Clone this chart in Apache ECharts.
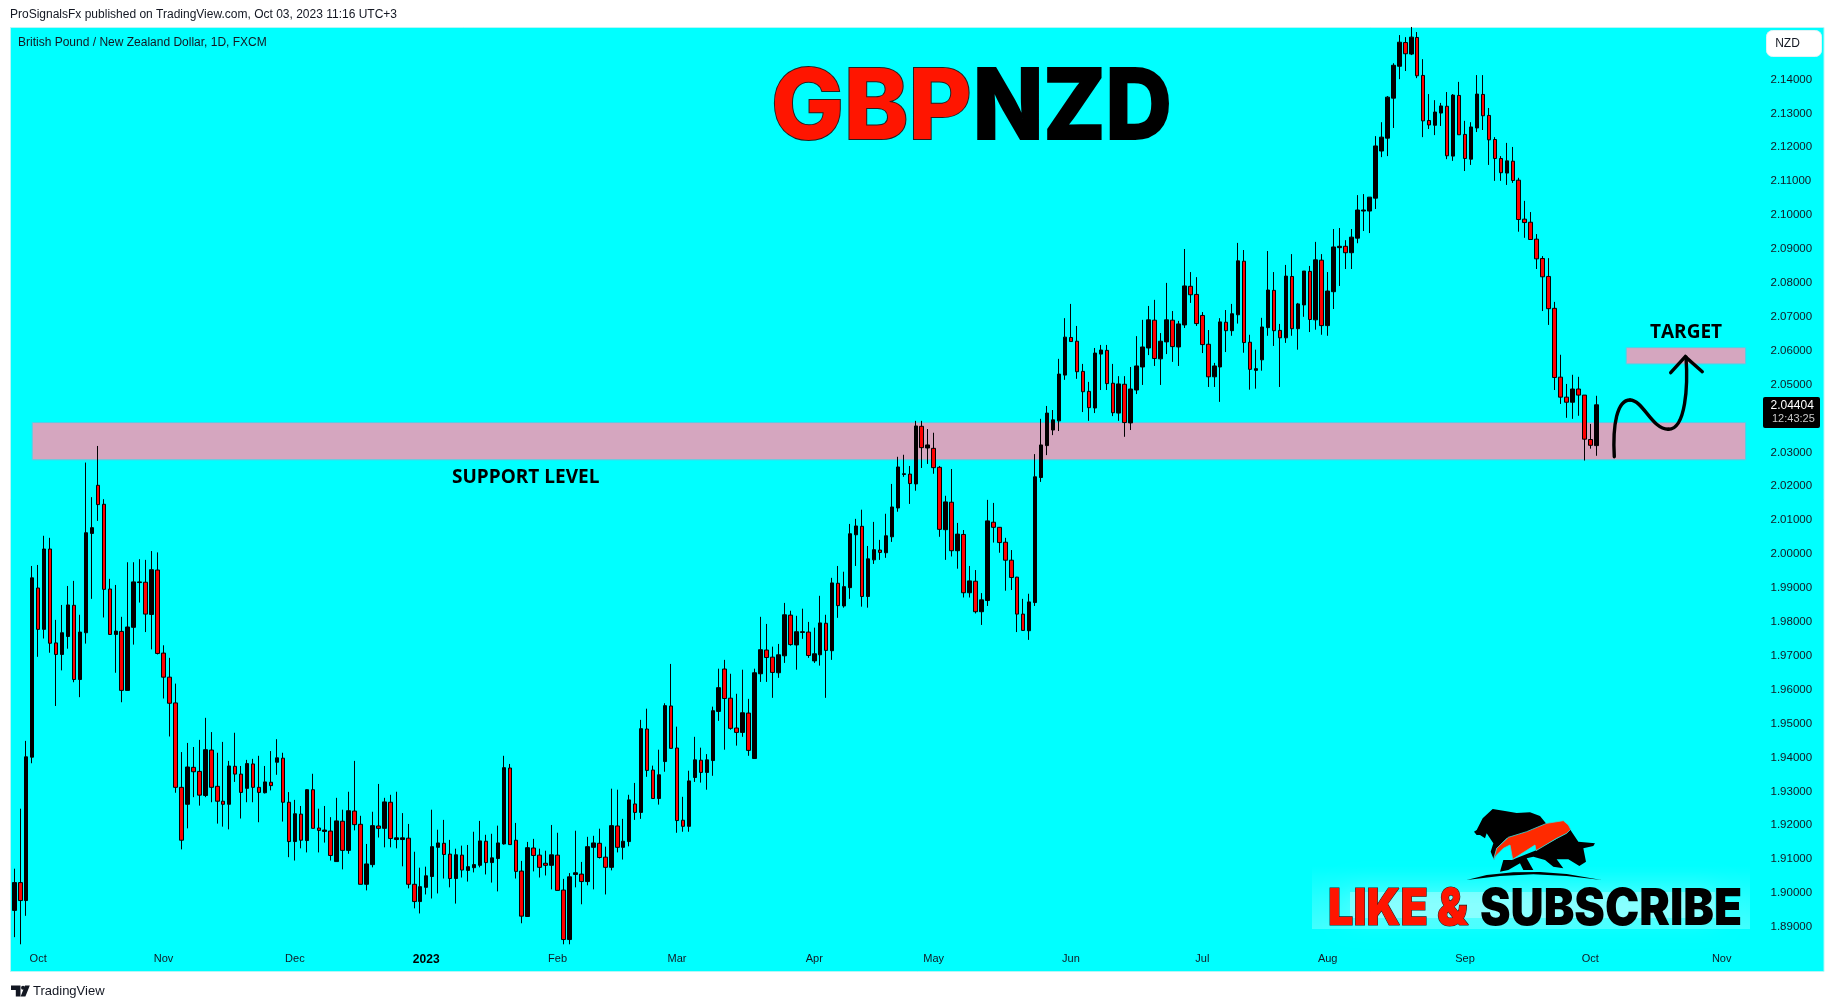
<!DOCTYPE html>
<html><head><meta charset="utf-8"><style>html,body{margin:0;padding:0;background:#fff}#c{width:1835px;height:1008px}</style>
<script src="https://cdn.jsdelivr.net/npm/echarts@6/dist/echarts.min.js"></script></head><body><div id="c"></div>
<script>
const opens=[1.8949,1.9031,1.8978,1.9401,1.9900,1.9778,2.0015,1.9738,1.9704,1.9757,
1.9849,1.9630,1.9768,2.0061,2.0203,2.0147,1.9897,1.9763,1.9772,1.9598,
1.9784,1.9916,1.9917,1.9822,1.9953,1.9708,1.9637,1.9561,1.9312,1.9262,
1.9371,1.9359,1.9288,1.9422,1.9315,1.9271,1.9262,1.9374,1.9351,1.9309,
1.9381,1.9312,1.9296,1.9327,1.9386,1.9398,1.9268,1.9152,1.9233,1.9155,
1.9305,1.9192,1.9182,1.9183,1.9093,1.9212,1.9126,1.9242,1.9203,1.9026,
1.9084,1.9198,1.9191,1.9268,1.9158,1.9158,1.9162,1.9026,1.8975,1.9017,
1.9049,1.9135,1.9147,1.9115,1.9043,1.9112,1.9067,1.9075,1.9082,1.9153,
1.9090,1.9102,1.9145,1.9369,1.9156,1.9065,1.8931,1.9133,1.9112,1.9088,
1.9082,1.9112,1.9009,1.8863,1.9055,1.9056,1.9034,1.9135,1.9147,1.9106,
1.9076,1.9198,1.9135,1.9152,1.9263,1.9238,1.9484,1.9363,1.9279,1.9388,
1.9552,1.9428,1.9215,1.9197,1.9341,1.9392,1.9356,1.9391,1.9536,1.9661,
1.9575,1.9487,1.9474,1.9531,1.9397,1.9647,1.9717,1.9696,1.9650,1.9700,
1.9820,1.9732,1.9769,1.9770,1.9685,1.9703,1.9796,1.9715,1.9914,1.9847,
1.9901,2.0057,2.0082,1.9875,1.9983,2.0012,2.0004,2.0051,2.0136,2.0235,
2.0236,2.0207,2.0377,2.0313,2.0312,2.0256,2.0072,2.0153,2.0010,2.0058,
1.9886,1.9920,1.9830,1.9863,2.0094,2.0079,2.0035,1.9982,1.9932,1.9823,
1.9774,1.9857,2.0226,2.0320,2.0366,2.0393,2.0528,2.0639,2.0628,2.0539,
2.0480,2.0431,2.0590,2.0601,2.0504,2.0416,2.0501,2.0387,2.0484,2.0552,
2.0608,2.0690,2.0576,2.0626,2.0690,2.0611,2.0676,2.0790,2.0766,2.0704,
2.0619,2.0523,2.0552,2.0684,2.0659,2.0706,2.0864,2.0625,2.0542,2.0573,
2.0668,2.0778,2.0660,2.0638,2.0819,2.0665,2.0735,2.0834,2.0691,2.0867,
2.0674,2.0774,2.0904,2.0908,2.0889,2.0932,2.1012,2.1012,2.1050,2.1189,
2.1227,2.1345,2.1439,2.1509,2.1475,2.1524,2.1412,2.1279,2.1265,2.1301,
2.1321,2.1174,2.1353,2.1238,2.1165,2.1257,2.1356,2.1294,2.1223,2.1167,
2.1124,2.1159,2.1103,2.0988,2.0979,2.0929,2.0872,2.0819,2.0725,2.0522,
2.0463,2.0448,2.0487,2.0469,2.0338,2.0320];
const closes=[1.9031,1.8978,1.9402,1.9930,1.9778,2.0015,1.9737,1.9704,1.9768,1.9850,
1.9630,1.9770,2.0063,2.0078,2.0146,1.9896,1.9763,1.9773,1.9598,1.9785,
1.9918,1.9918,1.9823,1.9954,1.9707,1.9637,1.9560,1.9312,1.9156,1.9372,
1.9358,1.9289,1.9423,1.9312,1.9271,1.9262,1.9375,1.9351,1.9297,1.9382,
1.9312,1.9297,1.9328,1.9317,1.9399,1.9268,1.9152,1.9234,1.9156,1.9305,
1.9191,1.9185,1.9186,1.9111,1.9213,1.9126,1.9243,1.9202,1.9026,1.9086,
1.9199,1.9191,1.9269,1.9161,1.9163,1.9163,1.9026,1.8975,1.9019,1.9051,
1.9137,1.9148,1.9114,1.9043,1.9113,1.9068,1.9078,1.9084,1.9154,1.9090,
1.9104,1.9148,1.9370,1.9143,1.9064,1.8932,1.9134,1.9111,1.9076,1.9082,
1.9113,1.9008,1.8863,1.9048,1.9060,1.9034,1.9137,1.9148,1.9105,1.9076,
1.9199,1.9135,1.9153,1.9275,1.9238,1.9485,1.9362,1.9279,1.9349,1.9553,
1.9427,1.9214,1.9197,1.9331,1.9393,1.9356,1.9393,1.9538,1.9606,1.9574,
1.9486,1.9474,1.9532,1.9421,1.9650,1.9718,1.9695,1.9651,1.9703,1.9821,
1.9733,1.9771,1.9771,1.9701,1.9706,1.9797,1.9716,1.9915,1.9848,1.9904,
2.0060,2.0083,1.9875,1.9986,2.0013,2.0005,2.0054,2.0139,2.0257,2.0237,
2.0208,2.0378,2.0314,2.0322,2.0255,2.0073,2.0154,2.0010,2.0059,1.9886,
1.9921,1.9830,1.9865,2.0098,2.0079,2.0034,1.9982,1.9931,1.9823,1.9775,
1.9859,2.0228,2.0322,2.0416,2.0396,2.0531,2.0640,2.0627,2.0538,2.0479,
2.0432,2.0593,2.0602,2.0503,2.0417,2.0502,2.0388,2.0487,2.0555,2.0611,
2.0691,2.0577,2.0628,2.0691,2.0612,2.0679,2.0791,2.0765,2.0680,2.0618,
2.0523,2.0555,2.0685,2.0659,2.0709,2.0865,2.0624,2.0545,2.0547,2.0670,
2.0779,2.0659,2.0638,2.0820,2.0665,2.0738,2.0835,2.0692,2.0868,2.0674,
2.0776,2.0906,2.0908,2.0889,2.0935,2.1015,2.1015,2.1053,2.1204,2.1230,
2.1348,2.1442,2.1510,2.1476,2.1525,2.1411,2.1278,2.1266,2.1304,2.1322,
2.1175,2.1354,2.1237,2.1167,2.1260,2.1357,2.1293,2.1222,2.1167,2.1125,
2.1160,2.1102,2.0987,2.0978,2.0928,2.0871,2.0818,2.0724,2.0521,2.0463,
2.0448,2.0487,2.0469,2.0339,2.0321,2.04404];
const lows=[1.8870,1.8849,1.8933,1.9383,1.9697,1.9751,1.9709,1.9552,1.9657,1.9721,
1.9622,1.9578,1.9736,1.9868,2.0098,1.9813,1.9763,1.9650,1.9563,1.9598,
1.9733,1.9857,1.9770,1.9719,1.9704,1.9574,1.9462,1.9296,1.9129,1.9191,
1.9283,1.9258,1.9283,1.9268,1.9205,1.9196,1.9188,1.9328,1.9220,1.9268,
1.9268,1.9209,1.9294,1.9303,1.9349,1.9211,1.9106,1.9096,1.9132,1.9120,
1.9191,1.9120,1.9149,1.9096,1.9093,1.9070,1.9116,1.9185,1.9026,1.9008,
1.9076,1.9164,1.9135,1.9135,1.9132,1.9079,1.9014,1.8955,1.8940,1.8996,
1.8984,1.8999,1.9043,1.9017,1.8969,1.9046,1.9034,1.9061,1.9076,1.9055,
1.9031,1.9005,1.9143,1.9143,1.9043,1.8911,1.8931,1.9064,1.9046,1.9052,
1.9011,1.9008,1.8849,1.8849,1.9017,1.8967,1.9023,1.9011,1.9102,1.8996,
1.9067,1.9120,1.9099,1.9138,1.9216,1.9219,1.9343,1.9279,1.9261,1.9358,
1.9427,1.9178,1.9181,1.9181,1.9328,1.9326,1.9305,1.9346,1.9508,1.9423,
1.9482,1.9435,1.9461,1.9405,1.9397,1.9623,1.9623,1.9576,1.9635,1.9679,
1.9730,1.9659,1.9750,1.9694,1.9679,1.9671,1.9576,1.9688,1.9812,1.9842,
1.9868,1.9965,1.9845,1.9842,1.9971,1.9983,1.9989,2.0036,2.0125,2.0228,
2.0148,2.0187,2.0254,2.0266,2.0237,2.0051,1.9983,1.9993,1.9957,1.9872,
1.9872,1.9825,1.9791,1.9847,2.0034,2.0004,1.9892,1.9894,1.9770,1.9774,
1.9747,1.9847,2.0213,2.0292,2.0351,2.0363,2.0514,2.0627,2.0517,2.0419,
2.0393,2.0416,2.0484,2.0484,2.0407,2.0393,2.0346,2.0366,2.0472,2.0499,
2.0587,2.0555,2.0499,2.0590,2.0567,2.0555,2.0667,2.0741,2.0673,2.0593,
2.0493,2.0493,2.0449,2.0596,2.0644,2.0680,2.0594,2.0485,2.0488,2.0541,
2.0644,2.0614,2.0493,2.0623,2.0644,2.0603,2.0700,2.0655,2.0662,2.0647,
2.0644,2.0723,2.0791,2.0841,2.0841,2.0917,2.0953,2.0947,2.1018,2.1171,
2.1174,2.1257,2.1401,2.1425,2.1472,2.1404,2.1230,2.1254,2.1236,2.1263,
2.1165,2.1160,2.1237,2.1130,2.1148,2.1245,2.1251,2.1148,2.1101,2.1101,
2.1089,2.1095,2.0951,2.0933,2.0928,2.0841,2.0717,2.0676,2.0484,2.0443,
2.0402,2.0399,2.0408,2.0276,2.0311,2.0290];
const highs=[1.9072,1.9249,1.9449,1.9965,1.9968,2.0054,2.0048,1.9806,1.9850,1.9906,
1.9921,1.9821,2.0270,2.0168,2.0319,2.0162,1.9927,1.9909,1.9815,1.9976,
1.9976,1.9985,1.9983,2.0009,2.0005,1.9731,1.9694,1.9618,1.9416,1.9443,
1.9431,1.9452,1.9517,1.9475,1.9414,1.9446,1.9390,1.9473,1.9375,1.9393,
1.9396,1.9405,1.9375,1.9419,1.9454,1.9414,1.9298,1.9275,1.9257,1.9306,
1.9352,1.9249,1.9257,1.9224,1.9281,1.9246,1.9299,1.9390,1.9228,1.9145,
1.9240,1.9322,1.9281,1.9290,1.9299,1.9236,1.9204,1.9122,1.9075,1.9078,
1.9246,1.9187,1.9216,1.9157,1.9131,1.9140,1.9142,1.9181,1.9213,1.9172,
1.9175,1.9199,1.9405,1.9381,1.9207,1.9095,1.9151,1.9160,1.9131,1.9125,
1.9201,1.9178,1.9042,1.9059,1.9184,1.9092,1.9166,1.9169,1.9190,1.9137,
1.9308,1.9305,1.9219,1.9290,1.9325,1.9511,1.9544,1.9376,1.9423,1.9560,
1.9676,1.9491,1.9284,1.9361,1.9461,1.9429,1.9410,1.9550,1.9662,1.9688,
1.9647,1.9588,1.9659,1.9573,1.9662,1.9815,1.9794,1.9727,1.9735,1.9856,
1.9833,1.9818,1.9839,1.9800,1.9783,1.9877,1.9821,1.9930,1.9965,1.9948,
2.0089,2.0104,2.0131,2.0024,2.0095,2.0042,2.0119,2.0207,2.0287,2.0293,
2.0260,2.0393,2.0393,2.0369,2.0358,2.0260,2.0172,2.0251,2.0092,2.0071,
1.9965,1.9953,1.9885,2.0160,2.0151,2.0080,2.0048,2.0012,1.9933,1.9868,
1.9883,2.0295,2.0399,2.0437,2.0425,2.0576,2.0696,2.0738,2.0673,2.0561,
2.0508,2.0608,2.0617,2.0617,2.0561,2.0525,2.0525,2.0552,2.0643,2.0691,
2.0732,2.0750,2.0652,2.0800,2.0717,2.0688,2.0900,2.0832,2.0817,2.0714,
2.0661,2.0564,2.0696,2.0720,2.0738,2.0918,2.0897,2.0647,2.0603,2.0697,
2.0894,2.0832,2.0679,2.0853,2.0885,2.0741,2.0835,2.0850,2.0921,2.0885,
2.0832,2.0959,2.0962,2.0926,2.0959,2.1059,2.1062,2.1053,2.1233,2.1274,
2.1351,2.1448,2.1531,2.1525,2.1555,2.1540,2.1460,2.1357,2.1339,2.1331,
2.1363,2.1357,2.1393,2.1278,2.1274,2.1413,2.1413,2.1316,2.1230,2.1174,
2.1213,2.1201,2.1110,2.1042,2.1009,2.0944,2.0879,2.0873,2.0744,2.0588,
2.0502,2.0529,2.0523,2.0469,2.0384,2.0467];
const tickDates=["2022-10-03","2022-11-01","2022-12-01","2023-01-02","2023-02-01","2023-03-01","2023-04-03","2023-05-01","2023-06-01","2023-07-03","2023-08-01","2023-09-01","2023-10-02","2023-11-01"];
const tickLabels=["Oct","Nov","Dec","2023","Feb","Mar","Apr","May","Jun","Jul","Aug","Sep","Oct","Nov"];
const supportZone=[2.0388,2.0278];
const targetZone=[2.0609,2.0561];

const categories=[];
(function(){let d=new Date(Date.UTC(2022,8,27));while(categories.length<293){const w=d.getUTCDay();if(w>0&&w<6)categories.push(d.toISOString().slice(0,10));d=new Date(d.getTime()+864e5);}})();
const tickMap={};tickDates.forEach((d,i)=>tickMap[d]=tickLabels[i]);

const FONT='"Liberation Sans",Arial,sans-serif';
const HEAVY='Inter,"Liberation Sans",sans-serif';
const INK='#131722';
const logo=(pts)=>pts.map(p=>[1300+p[0]/3,780+p[1]/3]);
// text placed through the element transform so a horizontal squeeze keeps its anchor
const T=(x,y,o,sx)=>({type:'text',z:20,silent:true,x:x,y:y,scaleX:sx||1,style:Object.assign({fontFamily:FONT,fill:INK,verticalAlign:'middle',align:'left'},o)});
const curve=(s)=>({type:'bezierCurve',z:15,shape:s,style:{stroke:'#000',lineWidth:3.4,fill:null,lineCap:'round'}});

const graphics=[
 {type:'rect',z:-5,silent:true,shape:{x:10.5,y:27.5,width:1813.5,height:944},style:{fill:'#00FFFF',stroke:'#B4F7F7',lineWidth:1}},
 {type:'rect',z:8,silent:true,shape:{x:1312,y:866,width:438,height:63},style:{fill:{type:'linear',x:0,y:0,x2:0,y2:1,colorStops:[{offset:0,color:'rgba(255,255,255,0)'},{offset:.5,color:'rgba(255,255,255,.14)'},{offset:1,color:'rgba(255,255,255,.26)'}]}}},
 {type:'rect',z:8,silent:true,shape:{x:1350,y:892,width:365,height:26},style:{fill:'rgba(255,255,255,.32)',shadowBlur:26,shadowColor:'rgba(255,255,255,.75)'}},
 T(10,15,{text:'ProSignalsFx published on TradingView.com, Oct 03, 2023 11:16 UTC+3',fontSize:12}),
 T(18,42.5,{text:'British Pound / New Zealand Dollar, 1D, FXCM',fontSize:12}),
 T(33,991,{text:'TradingView',fontSize:13}),
 {type:'polygon',z:20,silent:true,shape:{points:[[11,985.5],[20.5,985.5],[20.5,996.5],[15.8,996.5],[15.8,990],[11,990]]},style:{fill:INK}},
 {type:'circle',z:20,silent:true,shape:{cx:23,cy:987.8,r:2},style:{fill:INK}},
 {type:'polygon',z:20,silent:true,shape:{points:[[25,985.5],[29.8,985.5],[25.4,996.5],[20.6,996.5]]},style:{fill:INK}},
 {type:'rect',z:20,silent:true,shape:{x:1766.5,y:30.5,width:55,height:26,r:6},style:{fill:'#fff',stroke:'#E0F4F6',lineWidth:1}},
 T(1787.5,44,{text:'NZD',fontSize:12,align:'center'}),
 {type:'rect',z:20,silent:true,shape:{x:1763,y:397,width:57,height:31,r:2},style:{fill:'#000'}},
 T(1770.5,405.7,{text:'2.04404',fontSize:12,fill:'#fff'}),
 T(1772,419.3,{text:'12:43:25',fontSize:11,fill:'#C9C9C9'}),
 T(771,110,{text:'GBP',fontFamily:HEAVY,fontWeight:800,fontSize:97,fill:'#FF1500',stroke:'#222',lineWidth:2,shadowBlur:12,shadowColor:'rgba(255,255,255,.9)'}),
 T(973,110,{text:'NZD',fontFamily:HEAVY,fontWeight:800,fontSize:97,fill:'#000',stroke:'#000',lineWidth:2,shadowBlur:12,shadowColor:'rgba(255,255,255,.9)'},.945),
 T(452,478,{text:'SUPPORT LEVEL',fontFamily:'"Open Sans",sans-serif',fontWeight:700,fontSize:19,fill:'#000'}),
 T(1650,333,{text:'TARGET',fontFamily:'"Open Sans",sans-serif',fontWeight:700,fontSize:19,fill:'#000'}),
 T(1328,909.5,{text:'LIKE &',fontFamily:HEAVY,fontWeight:900,fontSize:51,fill:'#FF1500',stroke:'#222',lineWidth:1.2},.88),
 T(1480,909.5,{text:'SUBSCRIBE',fontFamily:HEAVY,fontWeight:900,fontSize:51,fill:'#000'},.9),
 {type:'polygon',z:12,silent:true,shape:{points:logo([[522,155],[530,150],[548,115],[578,87],[615,93],[650,99],[690,97],[720,108],[742,135],[660,165],[620,175],[590,205],[582,240],[572,215],[580,190],[560,160],[555,175],[540,165],[530,165]])},style:{fill:'#000'}},
 {type:'polygon',z:12,silent:true,shape:{points:logo([[600,275],[610,240],[635,240],[705,212],[800,160],[810,148],[835,185],[885,190],[880,198],[850,205],[858,245],[838,258],[805,238],[770,238],[790,265],[760,260],[735,240],[700,230],[680,235],[700,270],[670,270],[660,250],[625,270]])},style:{fill:'#000'}},
 {type:'polygon',z:13,silent:true,shape:{points:logo([[580,240],[590,205],[625,172],[680,155],[740,130],[790,122],[805,135],[812,148],[800,160],[770,175],[708,212],[705,195],[638,238],[630,195],[610,205],[590,225]])},style:{fill:'#FF2A00',stroke:'#2FE0E0',lineWidth:.8}},
 {type:'polygon',z:12,silent:true,shape:{points:logo([[500,300],[560,285],[640,277],[720,276],[800,282],[905,300],[800,288],[700,283],[600,288]])},style:{fill:'#000'}},
 curve({x1:1614.3,y1:456.7,cpx1:1612.5,cpy1:425,cpx2:1617,cpy2:400,x2:1630,y2:400}),
 curve({x1:1630,y1:400,cpx1:1643,cpy1:400,cpx2:1652,cpy2:429.5,x2:1668.3,y2:429.3}),
 curve({x1:1668.3,y1:429.3,cpx1:1686,cpy1:429.5,cpx2:1688,cpy2:385,x2:1686,y2:357}),
 {type:'polyline',z:15,shape:{points:[[1670.7,372.7],[1685.3,356.7],[1702.3,371.7]]},style:{stroke:'#000',lineWidth:3.4,fill:null,lineCap:'round'}}
];

const chart=echarts.init(document.getElementById('c'),null,{renderer:'canvas'});
chart.setOption({
 animation:false,backgroundColor:'#fff',
 grid:{left:11.3,top:11.7,width:1749.21,height:949.2,containLabel:false},
 xAxis:{type:'category',data:categories,boundaryGap:true,axisLine:{show:false},axisTick:{show:false},splitLine:{show:false},
  axisLabel:{margin:-7,fontSize:11,fontFamily:FONT,color:INK,hideOverlap:false,
   interval:(i,v)=>v in tickMap,
   formatter:(v)=>tickMap[v]==='2023'?'{y|2023}':(tickMap[v]||''),
   rich:{y:{fontWeight:'bold',fontSize:12,fontFamily:FONT,color:'#000'}}}},
 yAxis:{type:'value',position:'right',min:1.88,max:2.16,interval:0.01,scale:true,axisLine:{show:false},axisTick:{show:false},splitLine:{show:false},
  axisLabel:{margin:10,fontSize:11.5,fontFamily:FONT,color:INK,formatter:(v)=>(v>2.145||v<1.885)?'':v.toFixed(5)}},
 graphic:{elements:graphics},
 series:[{type:'candlestick',data:opens.map((o,i)=>[o,closes[i],lows[i],highs[i]]),barWidth:4,clip:false,
  itemStyle:{color:'#000000',color0:'#FF0000',borderColor:'#000000',borderColor0:'#000000',borderWidth:1},
  markArea:{silent:true,z:1,label:{show:false},
   itemStyle:{color:'#D5A6BF',borderColor:'#55CFE6',borderWidth:1},
   data:[[{xAxis:categories[3],yAxis:supportZone[0]},{xAxis:categories[290],yAxis:supportZone[1]}],
         [{xAxis:categories[270],yAxis:targetZone[0]},{xAxis:categories[290],yAxis:targetZone[1]}]]}}]
});
</script></body></html>
